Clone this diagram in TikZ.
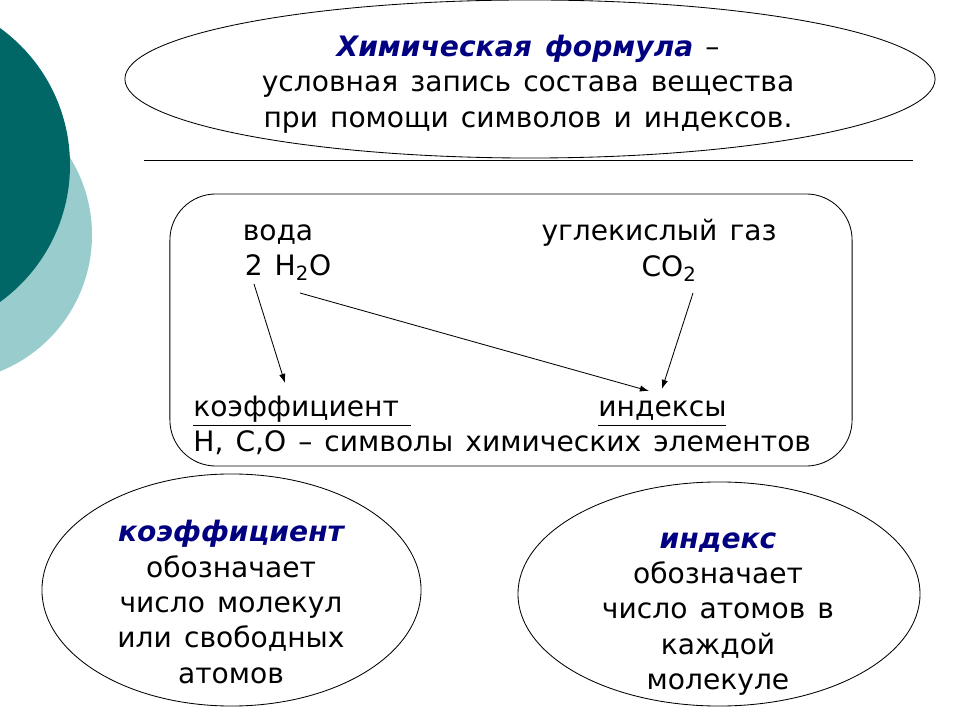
\documentclass[tikz,border=0pt]{standalone}
\usepackage{fontspec}
\usetikzlibrary{shapes.geometric,arrows.meta}
\setmainfont[WordSpace=1.35]{DejaVu Sans}
\definecolor{darkteal}{HTML}{006666}
\definecolor{lightteal}{HTML}{99CCCC}
\definecolor{titleblue}{HTML}{000080}
\begin{document}
\begin{tikzpicture}[x=0.025cm,y=-0.025cm,line width=0.6pt,
        main/.style = {draw, ellipse, inner sep=0pt},
        txt/.style = {font=\fontsize{20}{25.2}\selectfont, align=center, inner sep=0pt},
        arr/.style = {-{Latex[length=6.5pt,width=4.5pt]}}]
        \useasboundingbox (0,0) rectangle (960,720);
        \fill[lightteal] (-55,235) circle [radius=147*0.025cm];
        \fill[darkteal] (-99,165) circle [radius=169*0.025cm];
        \node[main, minimum width=20.25cm, minimum height=3.95cm] (top) at (530,79) {};
        \node[main, minimum width=9.475cm, minimum height=5.8cm] (coefoval) at (231.5,590) {};
        \node[main, minimum width=10.05cm, minimum height=5.6cm] (indoval) at (719,594) {};
        \node[draw, rounded corners=1.15cm, minimum width=17.05cm, minimum height=6.8cm] (box) at (511,330) {};
        \coordinate (rulel) at (144,160);
        \coordinate (ruler) at (913,160);
        \draw (rulel) -- (ruler);
        \node[txt] (title) at (528,84) {{\bfseries\itshape\color{titleblue}Химическая формула} –\\условная запись состава вещества\\при помощи символов и индексов.};
        \node[txt, anchor=base] (water) at (278,241) {вода};
        \node[txt, anchor=base] (gas) at (659,241) {углекислый газ};
        \node[txt, anchor=base] (h2o) at (288,276) {2 H\textsubscript{2}O};
        \node[txt, anchor=base] (co2) at (669,277) {CO\textsubscript{2}};
        \node[txt, anchor=base west] (coef) at (193,417) {\underline{\vphantom{ф}коэффициент\ }};
        \node[txt, anchor=base west] (ind) at (598,417) {\underline{\vphantom{ф}индексы}};
        \node[txt, anchor=base west] (sym) at (193,452) {H, C,O – символы химических элементов};
        \node[txt] (left) at (231,602) {{\bfseries\itshape\color{titleblue}коэффициент}\\обозначает\\число молекул\\или свободных\\атомов};
        \node[txt] (right) at (718,614) {{\bfseries\itshape\color{titleblue}индекс}\\обозначает\\число атомов в\\каждой\\молекуле};
        \coordinate (a1) at (254,284);
        \coordinate (b1) at (285,383);
        \coordinate (a2) at (300,293);
        \coordinate (b2) at (649,391);
        \coordinate (a3) at (693,293);
        \coordinate (b3) at (662,389);
        \draw[arr] (a1) -- (b1);
        \draw[arr] (a2) -- (b2);
        \draw[arr] (a3) -- (b3);
    \end{tikzpicture}
\end{document}
